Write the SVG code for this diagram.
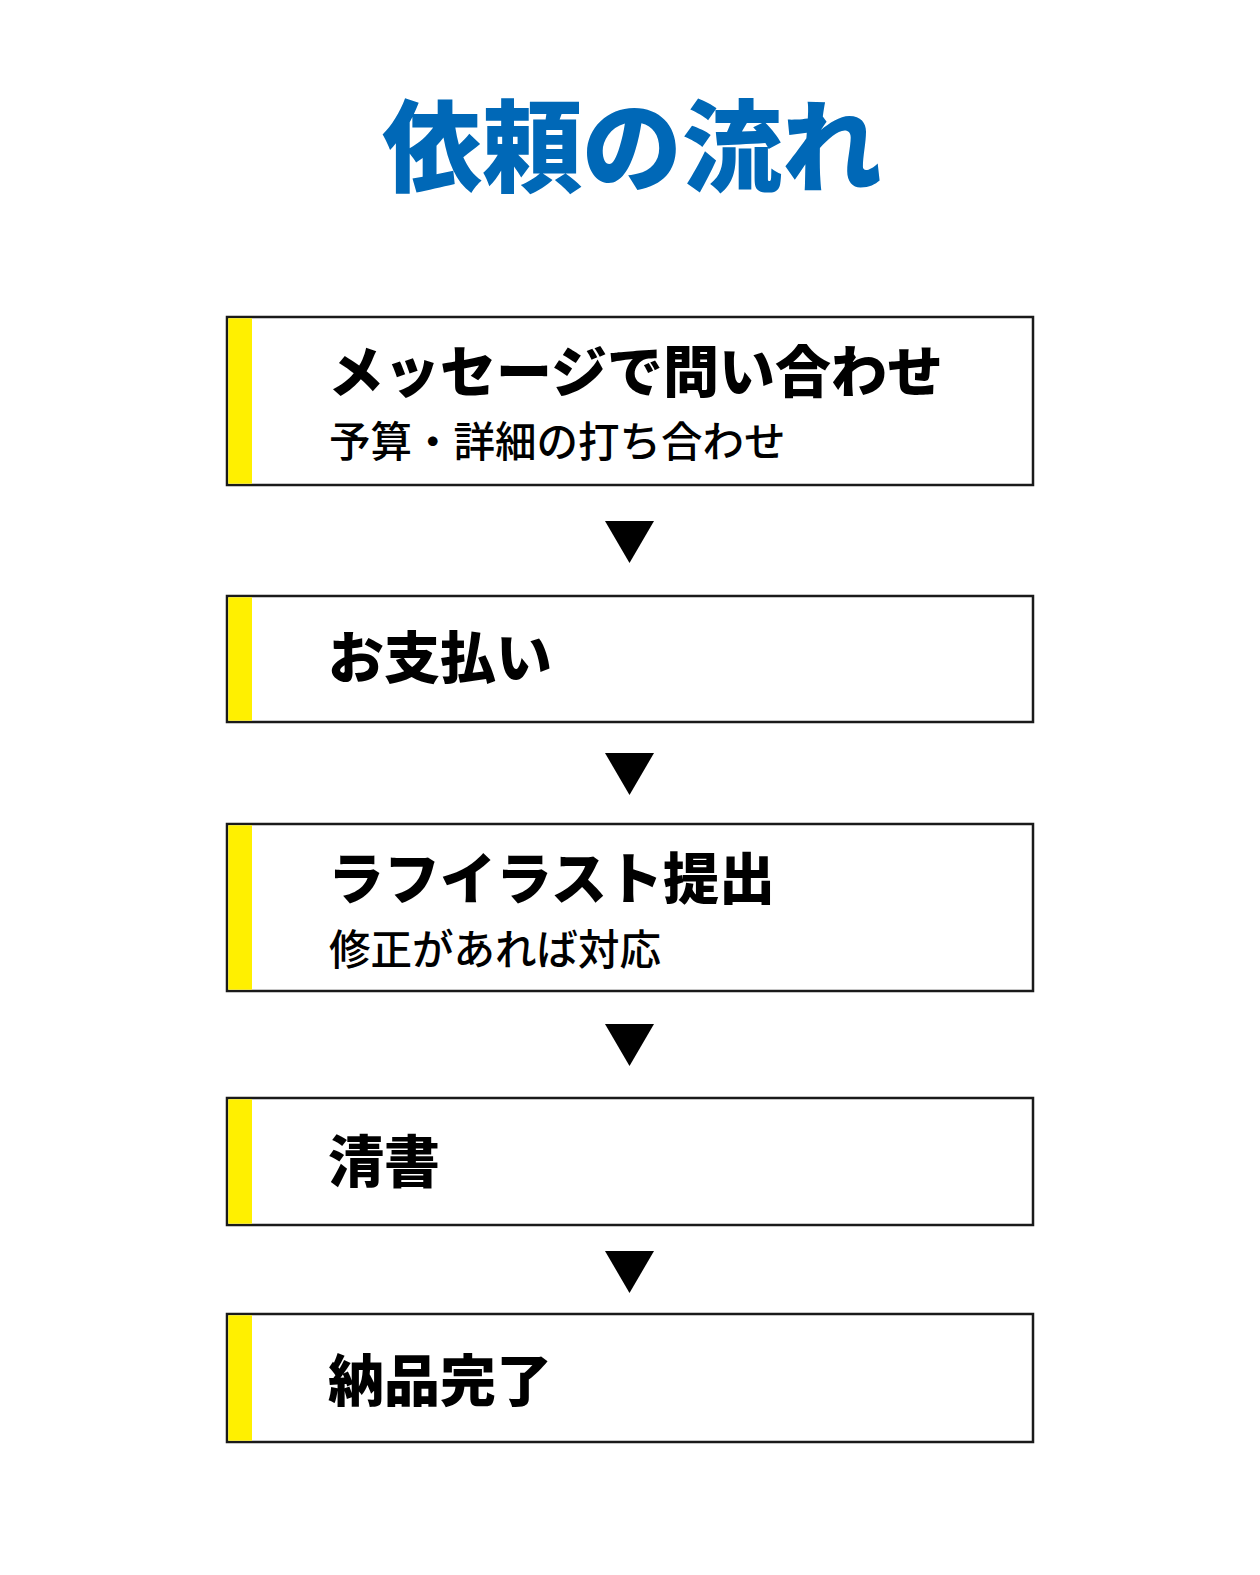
<svg xmlns="http://www.w3.org/2000/svg" width="1260" height="1575" viewBox="0 0 1260 1575">
<style>
.box{fill:#fff;stroke:#1a1a1a;stroke-width:2.5}
.bar{fill:#fff000}
.h{font-family:"Noto Sans CJK JP","Noto Sans",sans-serif;font-weight:900;font-size:56px;fill:#000}
.s{font-family:"Noto Sans CJK JP","Noto Sans",sans-serif;font-weight:500;font-size:41.5px;fill:#000}
.t{font-family:"Noto Sans CJK JP","Noto Sans",sans-serif;font-weight:900;font-size:100px;fill:#0068b7}
.arr{fill:#000}
</style>
<rect width="1260" height="1575" fill="#fff"/>
<text class="t" x="632" y="184" text-anchor="middle">依頼の流れ</text>
<g id="step1">
<rect class="box" x="227" y="317" width="806" height="168"/>
<rect class="bar" x="228.3" y="318.3" width="23.7" height="165.4"/>
<text class="h" x="328" y="392">メッセージで問い合わせ</text>
<text class="s" x="329" y="457">予算・詳細の打ち合わせ</text>
</g>
<g id="step2">
<rect class="box" x="227" y="596" width="806" height="126"/>
<rect class="bar" x="228.3" y="597.3" width="23.7" height="123.4"/>
<text class="h" x="328" y="678">お支払い</text>
</g>
<g id="step3">
<rect class="box" x="227" y="824" width="806" height="167"/>
<rect class="bar" x="228.3" y="825.3" width="23.7" height="164.4"/>
<text class="h" x="328" y="899">ラフイラスト提出</text>
<text class="s" x="329" y="965">修正があれば対応</text>
</g>
<g id="step4">
<rect class="box" x="227" y="1098" width="806" height="127"/>
<rect class="bar" x="228.3" y="1099.3" width="23.7" height="124.4"/>
<text class="h" x="328" y="1182">清書</text>
</g>
<g id="step5">
<rect class="box" x="227" y="1314" width="806" height="128"/>
<rect class="bar" x="228.3" y="1315.3" width="23.7" height="125.4"/>
<text class="h" x="328" y="1401">納品完了</text>
</g>
<g id="connectors">
<polygon class="arr" points="605,521 654,521 629.5,563"/>
<polygon class="arr" points="605,753 654,753 629.5,795"/>
<polygon class="arr" points="605,1024 654,1024 629.5,1066"/>
<polygon class="arr" points="605,1251 654,1251 629.5,1293"/>
</g>
</svg>
